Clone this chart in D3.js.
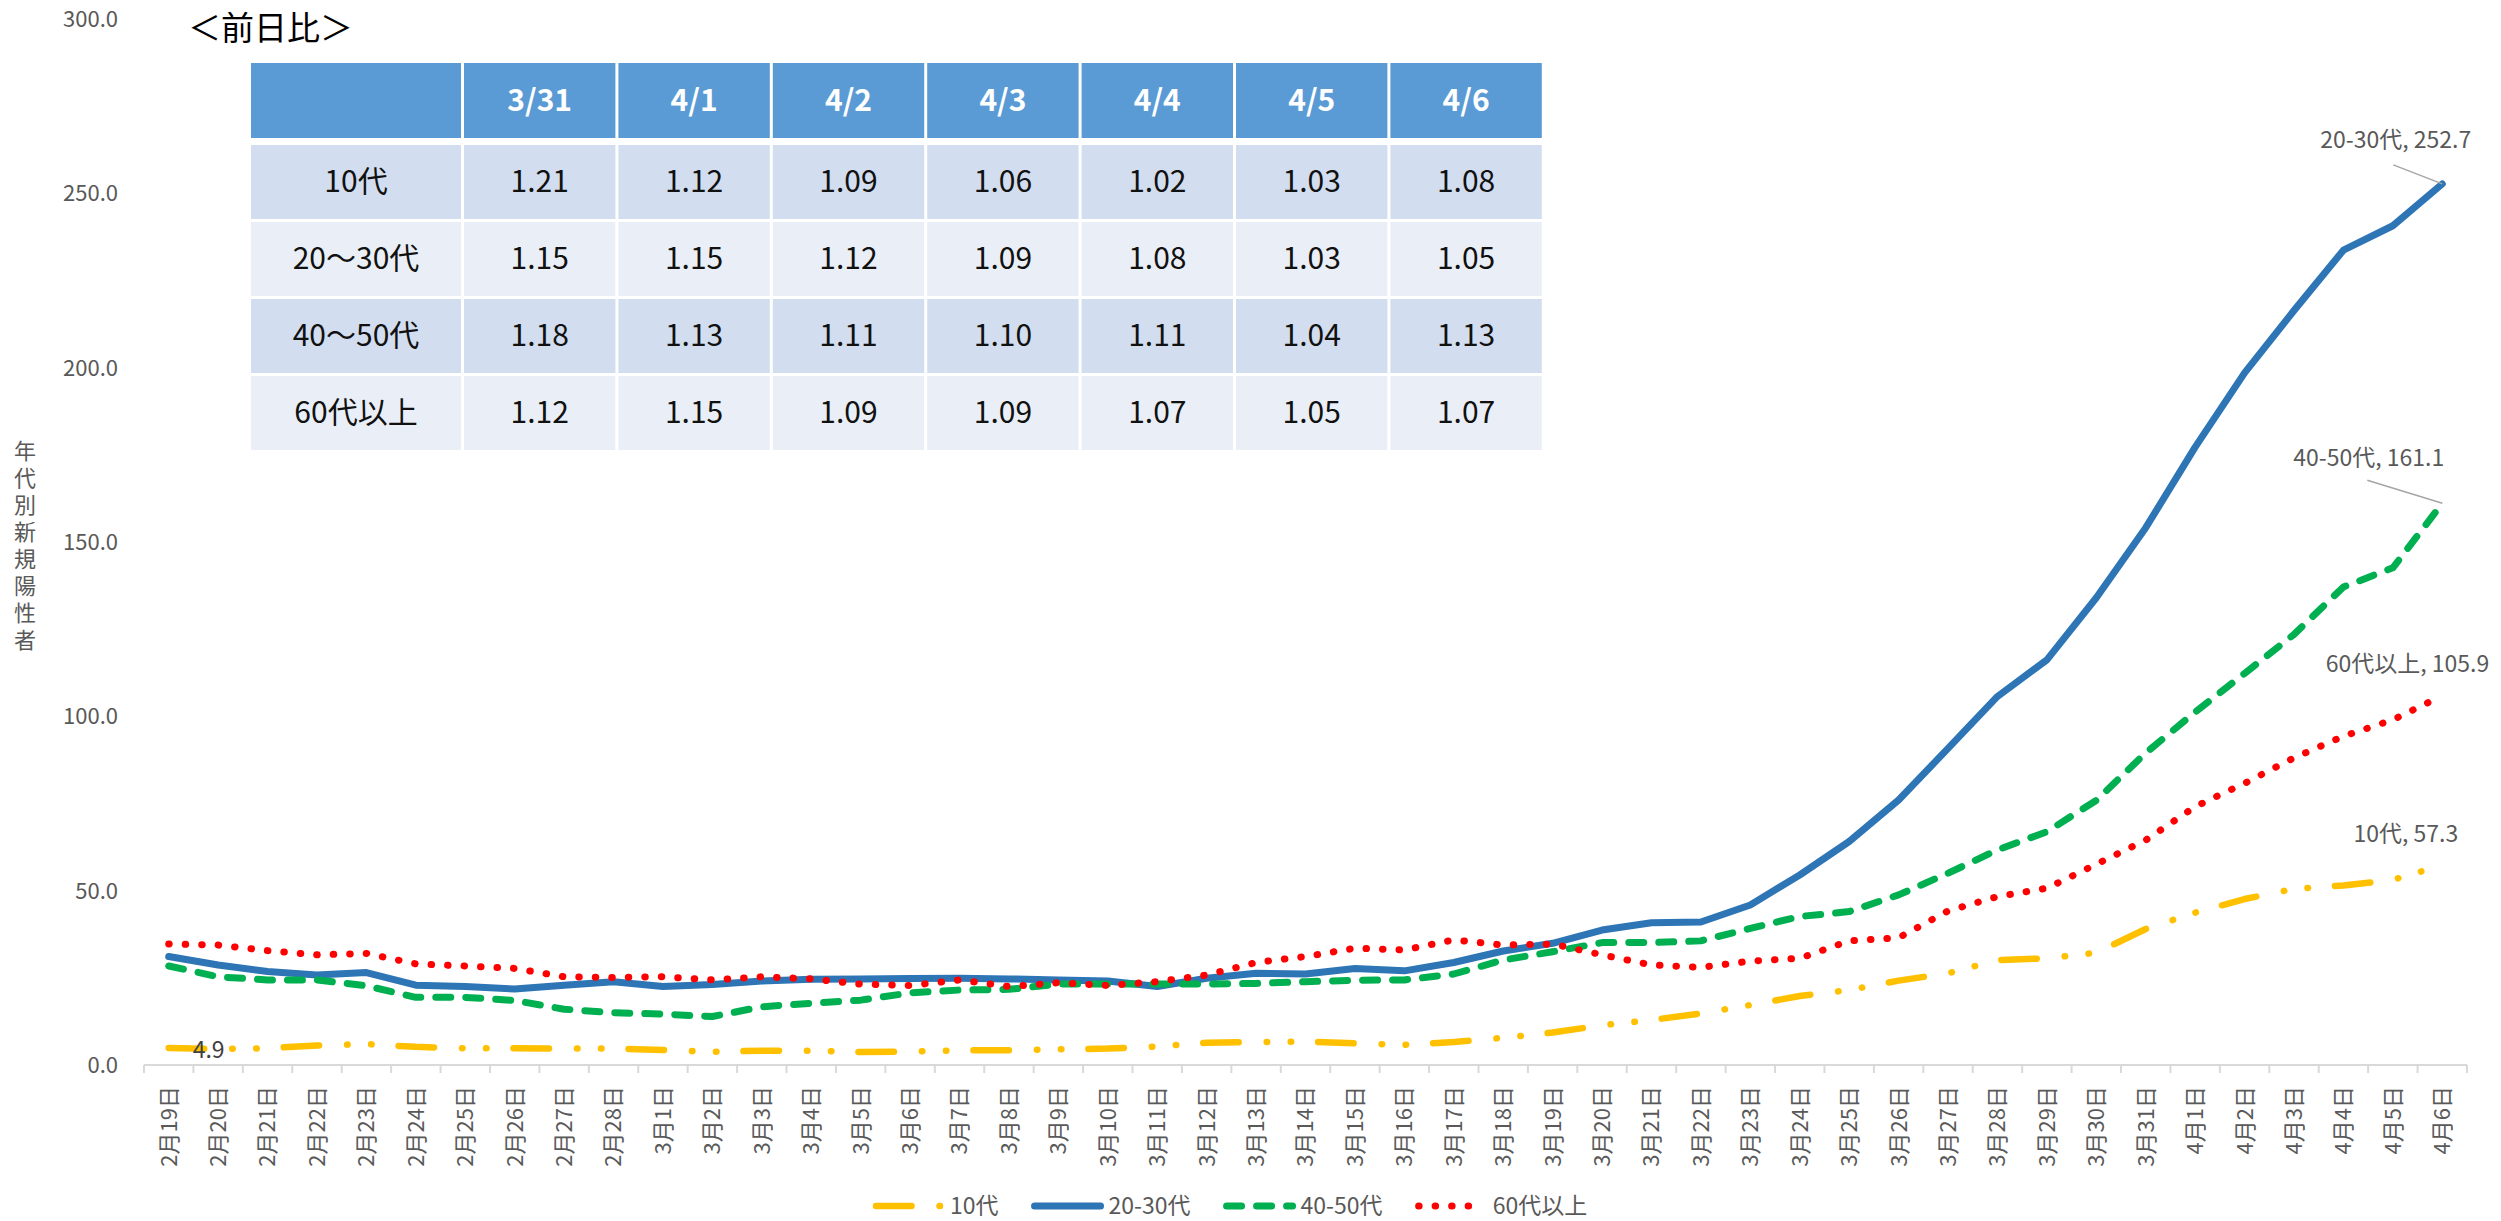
<!DOCTYPE html>
<html lang="ja">
<head>
<meta charset="utf-8">
<title>年代別新規陽性者</title>
<script src="https://cdn.jsdelivr.net/npm/d3@7"></script>
<style>
  html, body { margin: 0; padding: 0; background: #fff; }
  svg { display: block; font-family: "Noto Sans CJK JP", "Noto Sans", sans-serif; }
</style>
</head>
<body>
<div id="chart"></div>
<script>
// ---- data ----
const dates = [
  "2月19日", "2月20日", "2月21日", "2月22日", "2月23日", "2月24日", "2月25日", "2月26日", "2月27日", "2月28日",
  "3月1日", "3月2日", "3月3日", "3月4日", "3月5日", "3月6日", "3月7日", "3月8日", "3月9日", "3月10日",
  "3月11日", "3月12日", "3月13日", "3月14日", "3月15日", "3月16日", "3月17日", "3月18日", "3月19日", "3月20日",
  "3月21日", "3月22日", "3月23日", "3月24日", "3月25日", "3月26日", "3月27日", "3月28日", "3月29日", "3月30日",
  "3月31日", "4月1日", "4月2日", "4月3日", "4月4日", "4月5日", "4月6日"
];

const teens = [
  4.9, 4.6, 4.8, 5.6, 6.0, 5.2, 4.8, 4.8, 4.7, 4.7,
  4.3, 3.8, 4.1, 4.1, 3.7, 3.9, 4.2, 4.2, 4.5, 4.7,
  5.3, 6.4, 6.6, 6.7, 6.2, 5.8, 6.6, 7.8, 9.3, 11.4,
  12.9, 14.8, 17.2, 19.8, 21.5, 24.2, 26.3, 30.1, 30.6, 32.2,
  39.0, 43.7, 47.6, 50.5, 51.5, 53.1, 57.3
];

const age2030 = [
  31.1, 28.7, 26.8, 25.8, 26.5, 22.9, 22.5, 21.8, 22.9, 23.9,
  22.5, 23.1, 24.1, 24.6, 24.7, 24.8, 24.9, 24.7, 24.4, 24.1,
  22.5, 24.9, 26.3, 26.1, 27.7, 27.0, 29.4, 32.7, 34.9, 38.7,
  40.8, 41.0, 45.9, 54.5, 64.1, 76.0, 90.8, 105.7, 116.2, 134.0,
  154.1, 177.2, 198.5, 216.4, 233.7, 240.7, 252.7
];

const age4050 = [
  28.4, 25.3, 24.4, 24.4, 22.7, 19.4, 19.4, 18.5, 16.0, 15.0,
  14.6, 13.9, 16.7, 17.7, 18.6, 20.7, 21.5, 21.7, 23.2, 23.2,
  23.2, 23.2, 23.4, 23.9, 24.3, 24.4, 26.1, 30.1, 32.5, 35.1,
  35.1, 35.6, 39.2, 42.6, 44.0, 48.8, 55.0, 61.7, 66.9, 75.9,
  89.5, 101.2, 112.3, 123.5, 137.1, 142.6, 161.1
];

const age60plus = [
  34.7, 34.4, 32.8, 31.6, 32.0, 29.0, 28.4, 27.7, 25.3, 25.1,
  25.3, 24.4, 25.3, 24.7, 23.2, 22.8, 24.4, 22.5, 23.6, 22.8,
  23.9, 25.8, 29.4, 31.1, 33.5, 33.0, 35.9, 34.4, 34.7, 31.6,
  28.7, 28.0, 29.8, 30.6, 35.6, 36.5, 44.2, 48.3, 50.7, 57.6,
  64.5, 74.1, 80.8, 88.1, 94.3, 99.0, 105.9
];

const seriesNames = ["10代", "20-30代", "40-50代", "60代以上"];
const yTicks = [0, 50, 100, 150, 200, 250, 300];
const yTitle = "年代別新規陽性者";

// day-over-day table
const tableTitle = "＜前日比＞";
const tableCols = ["3/31", "4/1", "4/2", "4/3", "4/4", "4/5", "4/6"];
const tableRows = ["10代", "20～30代", "40～50代", "60代以上"];
const ratio10 = [1.21, 1.12, 1.09, 1.06, 1.02, 1.03, 1.08];
const ratio2030 = [1.15, 1.15, 1.12, 1.09, 1.08, 1.03, 1.05];
const ratio4050 = [1.18, 1.13, 1.11, 1.10, 1.11, 1.04, 1.13];
const ratio60 = [1.12, 1.15, 1.09, 1.09, 1.07, 1.05, 1.07];

// ---- layout ----
const width = 2501, height = 1221;
const plot = { left: 144, right: 2467, top: 19, bottom: 1065 };
const gray = "#595959";

// line looks, close to the Excel styles
const styles = {
  "10代":    { color: "#FFC000", width: 6.5, dash: "35.5,28,0.5,23.5,0.5,27" },
  "20-30代": { color: "#2E75B6", width: 7,   dash: null },
  "40-50代": { color: "#00B050", width: 7,   dash: "15,15" },
  "60代以上": { color: "#FF0000", width: 7,   dash: "0.5,16" }
};

const series = [
  { name: seriesNames[0], values: teens },
  { name: seriesNames[1], values: age2030 },
  { name: seriesNames[2], values: age4050 },
  { name: seriesNames[3], values: age60plus }
];

const svg = d3.select("#chart").append("svg")
  .attr("width", width)
  .attr("height", height)
  .attr("viewBox", `0 0 ${width} ${height}`);

const x = d3.scaleBand().domain(dates).range([plot.left, plot.right]).padding(0);
const y = d3.scaleLinear().domain([0, 300]).range([plot.bottom, plot.top]);
const cx = d => x(d) + x.bandwidth() / 2;

// y tick labels (no axis line, no gridlines)
svg.append("g")
  .selectAll("text")
  .data(yTicks)
  .join("text")
  .attr("x", 118)
  .attr("y", d => y(d))
  .attr("dy", "0.36em")
  .attr("text-anchor", "end")
  .attr("font-size", 22)
  .attr("fill", gray)
  .text(d => d.toFixed(1));

// y title, stacked upright characters
svg.append("g")
  .selectAll("text")
  .data(Array.from(yTitle))
  .join("text")
  .attr("x", 25)
  .attr("y", (d, i) => 451 + i * 27)
  .attr("dy", "0.36em")
  .attr("text-anchor", "middle")
  .attr("font-size", 22)
  .attr("fill", gray)
  .text(d => d);

// x axis: line + ticks between categories
const xAxis = svg.append("g").attr("class", "x-axis");
xAxis.append("line")
  .attr("x1", plot.left).attr("x2", plot.right)
  .attr("y1", plot.bottom).attr("y2", plot.bottom)
  .attr("stroke", "#D9D9D9").attr("stroke-width", 2);

const edges = dates.map(d => x(d)).concat([plot.right]);
xAxis.selectAll("line.tick")
  .data(edges)
  .join("line")
  .attr("class", "tick")
  .attr("x1", d => d).attr("x2", d => d)
  .attr("y1", plot.bottom).attr("y2", plot.bottom + 8)
  .attr("stroke", "#D9D9D9").attr("stroke-width", 2);

xAxis.selectAll("text")
  .data(dates)
  .join("text")
  .attr("transform", d => `translate(${cx(d)},${plot.bottom + 21}) rotate(-90)`)
  .attr("text-anchor", "end")
  .attr("dy", "0.36em")
  .attr("font-size", 22)
  .attr("fill", gray)
  .text(d => d);

// lines
const line = d3.line()
  .x((v, i) => cx(dates[i]))
  .y(v => y(v));

svg.append("g")
  .selectAll("path")
  .data(series)
  .join("path")
  .attr("d", s => line(s.values))
  .attr("fill", "none")
  .attr("stroke", s => styles[s.name].color)
  .attr("stroke-width", s => styles[s.name].width)
  .attr("stroke-dasharray", s => styles[s.name].dash)
  .attr("stroke-linecap", "round")
  .attr("stroke-linejoin", "round");

// data labels at the last day (placed like the Excel labels)
const last = dates.length - 1;
const endLabels = [
  { s: 1, dx: 29, dy: -44, leader: [-49, -19] },
  { s: 2, dx: 2, dy: -46, leader: [-75, -23] },
  { s: 3, dx: 47, dy: -32, leader: null },
  { s: 0, dx: 16, dy: -31, leader: null }
];

const lab = svg.append("g");
endLabels.forEach(l => {
  const sr = series[l.s];
  const px = cx(dates[last]);
  const py = y(sr.values[last]);
  if (l.leader) {
    lab.append("line")
      .attr("x1", px + l.leader[0]).attr("y1", py + l.leader[1])
      .attr("x2", px).attr("y2", py)
      .attr("stroke", "#A6A6A6").attr("stroke-width", 1.5);
  }
  lab.append("text")
    .attr("x", px + l.dx)
    .attr("y", py + l.dy)
    .attr("dy", "0.36em")
    .attr("text-anchor", "end")
    .attr("font-size", 23)
    .attr("fill", gray)
    .text(`${sr.name}, ${sr.values[last].toFixed(1)}`);
});

// first point label of 10代
lab.append("text")
  .attr("x", cx(dates[0]) + 24)
  .attr("y", y(teens[0]) + 2)
  .attr("dy", "0.36em")
  .attr("font-size", 23)
  .attr("fill", "#404040")
  .text(teens[0].toFixed(1));

// legend
const legend = svg.append("g").attr("transform", "translate(0,1206)");
let lx = 876;
series.forEach(s => {
  const st = styles[s.name];
  const item = legend.append("g");
  item.append("line")
    .attr("x1", lx).attr("x2", lx + 66)
    .attr("y1", 0).attr("y2", 0)
    .attr("stroke", st.color)
    .attr("stroke-width", st.width)
    .attr("stroke-dasharray", st.dash)
    .attr("stroke-linecap", "round");
  const t = item.append("text")
    .attr("x", lx + 74)
    .attr("y", 0)
    .attr("dy", "0.34em")
    .attr("font-size", 23)
    .attr("fill", gray)
    .text(s.name);
  lx += 74 + t.node().getComputedTextLength() + 36;
});

// ---- the ratio table ----
const tbl = svg.append("g");
tbl.append("text")
  .attr("x", 188).attr("y", 40)
  .attr("font-size", 33)
  .attr("fill", "#000")
  .text(tableTitle);

const table = { left: 251, firstW: 210, colW: 154.4, headTop: 63, headH: 75, rowTop: 145, rowH: 77, gap: 3 };
const colX = i => i === 0 ? table.left : table.left + table.firstW + (i - 1) * table.colW + table.gap;
const colW = i => i === 0 ? table.firstW : table.colW - table.gap;

const headCells = [""].concat(tableCols);
tbl.selectAll("rect.head")
  .data(headCells)
  .join("rect")
  .attr("class", "head")
  .attr("x", (d, i) => colX(i))
  .attr("y", table.headTop)
  .attr("width", (d, i) => colW(i))
  .attr("height", table.headH)
  .attr("fill", "#5B9BD5");

tbl.selectAll("text.head")
  .data(headCells)
  .join("text")
  .attr("class", "head")
  .attr("x", (d, i) => colX(i) + colW(i) / 2)
  .attr("y", table.headTop + table.headH / 2)
  .attr("dy", "0.36em")
  .attr("text-anchor", "middle")
  .attr("font-size", 30)
  .attr("font-weight", 700)
  .attr("fill", "#fff")
  .text(d => d);

const ratios = [ratio10, ratio2030, ratio4050, ratio60];
const rowsData = tableRows.map((r, ri) => [r].concat(ratios[ri].map(v => v.toFixed(2))));

const rowG = tbl.selectAll("g.row")
  .data(rowsData)
  .join("g")
  .attr("class", "row")
  .attr("transform", (d, ri) => `translate(0,${table.rowTop + ri * table.rowH})`);

rowG.each(function (cells, ri) {
  const g = d3.select(this);
  g.selectAll("rect")
    .data(cells)
    .join("rect")
    .attr("x", (d, i) => colX(i))
    .attr("y", 0)
    .attr("width", (d, i) => colW(i))
    .attr("height", table.rowH - table.gap)
    .attr("fill", ri % 2 === 0 ? "#D2DEEF" : "#EAEFF7");
  g.selectAll("text")
    .data(cells)
    .join("text")
    .attr("x", (d, i) => colX(i) + colW(i) / 2)
    .attr("y", (table.rowH - table.gap) / 2 - 1)
    .attr("dy", "0.36em")
    .attr("text-anchor", "middle")
    .attr("font-size", 30)
    .attr("fill", "#111")
    .text(d => d);
});
</script>
</body>
</html>
